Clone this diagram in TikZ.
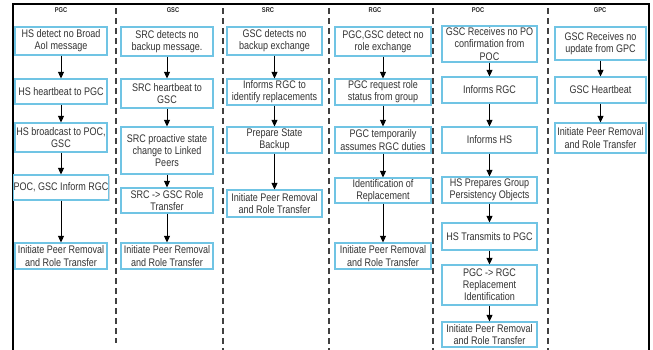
\documentclass[tikz,border=0pt]{standalone}
\usepackage{fontspec}
\setmainfont[FakeStretch=0.82]{Liberation Sans}
\usetikzlibrary{arrows.meta,shadows}

\definecolor{boxline}{RGB}{112,196,228}
\definecolor{boxshadow}{RGB}{205,214,220}

\tikzset{
  stepbox/.style={draw=boxline, line width=1.2pt, fill=white, align=center,
    font=\fontsize{11}{12.2}\selectfont, text=black!80, inner sep=0.5pt,
    drop shadow={shadow xshift=1.2pt, shadow yshift=-1.2pt, fill=boxshadow, opacity=1}},
  flowarrow/.style={draw=black, line width=1pt, -{Triangle[length=6.5pt,width=6pt]}},
  lanedivider/.style={draw=black!75, line width=1.3pt, dash pattern=on 6pt off 4pt},
  frameline/.style={draw=black, line width=1.4pt},
  lanehead/.style={font=\fontsize{7}{7}\selectfont\bfseries, text=black!85, inner sep=0pt}
}

% \flowbox{name}{left}{right}{top}{bottom}{text}
\newcommand\flowbox[6]{%
  \node[stepbox, minimum width={#3pt-#2pt}, minimum height={#5pt-#4pt}]
    (#1) at ({(#2+#3)/2},{(#4+#5)/2}) {#6};}

\begin{document}
\begin{tikzpicture}[x=1pt,y=-1pt]
\useasboundingbox (0,0) rectangle (653,349);

% outer frame (open at the bottom)
\draw[frameline] (13,352) -- (13,4) -- (649,4) -- (649,352);

% lane dividers
\draw[lanedivider] (116,8) -- (116,343);
\draw[lanedivider] (223,8) -- (223,352);
\draw[lanedivider] (329,8) -- (329,352);
\draw[lanedivider] (433,8) -- (433,352);
\draw[lanedivider] (548,8) -- (548,352);

% lane headings
\node[lanehead] (hPGC) at (61,10) {PGC};
\node[lanehead] (hGSC) at (173,10) {GSC};
\node[lanehead] (hSRC) at (268,10) {SRC};
\node[lanehead] (hRGC) at (375,10) {RGC};
\node[lanehead] (hPOC) at (478,10) {POC};
\node[lanehead] (hGPC) at (600,10) {GPC};

% PGC lane
\flowbox{a1}{15}{107}{27}{55}{HS detect no Broad\\AoI message}
\flowbox{a2}{15}{107}{79}{104}{HS heartbeat to PGC}
\flowbox{a3}{15}{107}{123}{152}{HS broadcast to POC,\\GSC}
\flowbox{a4}{15}{107}{175}{200}{POC, GSC Inform RGC}
\flowbox{a5}{15}{107}{243}{269}{Initiate Peer Removal\\and Role Transfer}

% GSC lane
\flowbox{b1}{121}{213}{27}{56}{SRC detects no\\backup message.}
\flowbox{b2}{121}{213}{79}{108}{SRC heartbeat to\\GSC}
\flowbox{b3}{121}{213}{127}{174}{SRC proactive state\\change to Linked\\Peers}
\flowbox{b4}{121}{213}{188}{213}{SRC -> GSC Role\\Transfer}
\flowbox{b5}{121}{213}{243}{269}{Initiate Peer Removal\\and Role Transfer}

% SRC lane
\flowbox{c1}{227}{322}{27}{55}{GSC detects no\\backup exchange}
\flowbox{c2}{227}{322}{79}{105}{Informs RGC to\\identify replacements}
\flowbox{c3}{227}{322}{127}{153}{Prepare State\\Backup}
\flowbox{c4}{227}{322}{190}{217}{Initiate Peer Removal\\and Role Transfer}

% RGC lane
\flowbox{d1}{335}{431}{27}{56}{PGC,GSC detect no\\role exchange}
\flowbox{d2}{335}{431}{79}{105}{PGC request role\\status from group}
\flowbox{d3}{335}{431}{127}{153}{PGC temporarily\\assumes RGC duties}
\flowbox{d4}{335}{431}{178}{203}{Identification of\\Replacement}
\flowbox{d5}{335}{431}{243}{269}{Initiate Peer Removal\\and Role Transfer}

% POC lane
\flowbox{e1}{442}{537}{26}{62}{GSC Receives no PO\\confirmation from\\POC}
\flowbox{e2}{442}{537}{77}{103}{Informs RGC}
\flowbox{e3}{442}{537}{127}{153}{Informs HS}
\flowbox{e4}{442}{537}{177}{203}{HS Prepares Group\\Persistency Objects}
\flowbox{e5}{442}{537}{223}{250}{HS Transmits to PGC}
\flowbox{e6}{442}{537}{265}{305}{PGC -> RGC\\Replacement\\Identification}
\flowbox{e7}{442}{537}{322}{347}{Initiate Peer Removal\\and Role Transfer}

% GPC lane
\flowbox{f1}{555}{646}{27}{60}{GSC Receives no\\update from GPC}
\flowbox{f2}{555}{646}{77}{103}{GSC Heartbeat}
\flowbox{f3}{555}{646}{123}{153}{Initiate Peer Removal\\and Role Transfer}

% connectors
\foreach \u/\v in {a1/a2,a2/a3,a3/a4,a4/a5,
                   b1/b2,b2/b3,b3/b4,b4/b5,
                   c1/c2,c2/c3,c3/c4,
                   d1/d2,d2/d3,d3/d4,d4/d5,
                   e1/e2,e2/e3,e3/e4,e4/e5,e5/e6,e6/e7,
                   f1/f2,f2/f3}
  \draw[flowarrow] (\u) -- (\v);
\end{tikzpicture}
\end{document}
